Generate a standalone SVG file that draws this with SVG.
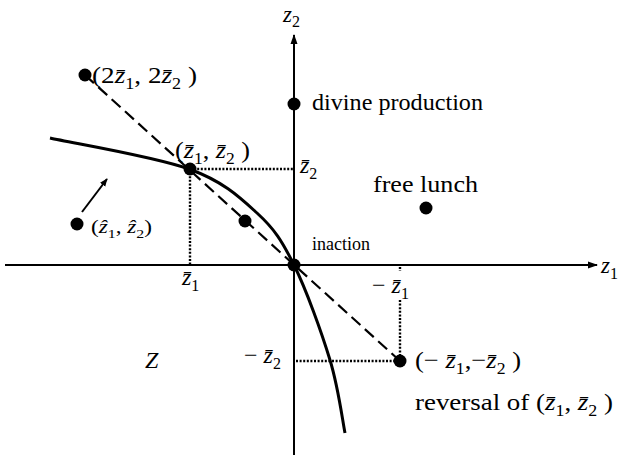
<svg xmlns="http://www.w3.org/2000/svg" width="618" height="460" viewBox="0 0 618 460" font-family="'Liberation Serif', 'Times New Roman', serif">
<style>
text{font-family:'Liberation Serif','Times New Roman',serif;font-size:24px;fill:#000}
.i{font-style:italic}
.s{font-size:16px}
.ax{stroke:#000;stroke-width:2;fill:none}
.dash{stroke:#000;stroke-width:2.2;stroke-dasharray:12 6;fill:none}
.dot{stroke:#000;stroke-width:2.4;stroke-dasharray:2 1.6;fill:none}
.pt{fill:#000}
</style>
<defs>
<marker id="ah" viewBox="0 0 10 10" refX="9" refY="5" markerWidth="8" markerHeight="8" orient="auto" markerUnits="userSpaceOnUse">
<path d="M0,1 L10,5 L0,9 Z" fill="#000"/>
</marker>
<marker id="ah2" viewBox="0 0 10 10" refX="9" refY="5" markerWidth="10" markerHeight="10" orient="auto" markerUnits="userSpaceOnUse">
<path d="M0,1.5 L10,5 L0,8.5 Z" fill="#000"/>
</marker>
</defs>
<g id="connectors">
<line class="ax" x1="5" y1="265" x2="597" y2="265" marker-end="url(#ah2)"/>
<line class="ax" x1="294" y1="455" x2="294" y2="35" marker-end="url(#ah2)"/>
<line class="dash" x1="85" y1="75" x2="400" y2="361"/>
<line class="dot" x1="190" y1="169" x2="293" y2="169"/>
<line class="dot" x1="190" y1="169" x2="190" y2="264"/>
<line class="dot" x1="400" y1="267" x2="400" y2="271"/>
<line class="dot" x1="400" y1="300" x2="400" y2="361"/>
<line class="dot" x1="296" y1="361" x2="400" y2="361"/>
<path d="M50,138 C73.2,143.2 154.5,156.5 189,169 C223.5,181.5 239.5,197 257,213 C274.5,229 281.8,240.5 294,265 C306.2,289.5 321.5,332 330,360 C338.5,388 342.5,420.8 345,433" stroke="#000" stroke-width="3" fill="none"/>
<line class="ax" x1="82" y1="212" x2="107" y2="179" marker-end="url(#ah)"/>
</g>
<g id="axis-labels">
<text x="283" y="22" style="font-size:23px"><tspan class="i">z</tspan><tspan class="s" dy="5">2</tspan></text>
<text x="601" y="273" style="font-size:23px"><tspan class="i">z</tspan><tspan class="s" dy="6">1</tspan></text>
</g>
<g id="node-2z">
<circle class="pt" cx="85" cy="75" r="6.5"/>
<text x="92" y="83" textLength="105" lengthAdjust="spacingAndGlyphs">(2<tspan class="i">z̄</tspan><tspan class="s" dy="6">1</tspan><tspan dy="-6">, 2</tspan><tspan class="i">z̄</tspan><tspan class="s" dy="6">2</tspan><tspan dy="-6"> )</tspan></text>
</g>
<g id="node-zbar">
<circle class="pt" cx="190" cy="169" r="6.5"/>
<text x="175" y="158" textLength="75" lengthAdjust="spacingAndGlyphs">(<tspan class="i">z̄</tspan><tspan class="s" dy="6">1</tspan><tspan dy="-6">, </tspan><tspan class="i">z̄</tspan><tspan class="s" dy="6">2</tspan><tspan dy="-6"> )</tspan></text>
<text x="300" y="173"><tspan class="i">z̄</tspan><tspan class="s" dy="6">2</tspan></text>
<text x="182" y="285"><tspan class="i">z̄</tspan><tspan class="s" dy="6">1</tspan></text>
</g>
<g id="node-mid">
<circle class="pt" cx="245" cy="221" r="6.5"/>
</g>
<g id="node-zhat">
<circle class="pt" cx="77" cy="224" r="6.5"/>
<text x="91" y="233" style="font-size:19px" textLength="61" lengthAdjust="spacingAndGlyphs">(<tspan class="i">ẑ</tspan><tspan dy="5" style="font-size:13px">1</tspan><tspan dy="-5">, </tspan><tspan class="i">ẑ</tspan><tspan dy="5" style="font-size:13px">2</tspan><tspan dy="-5">)</tspan></text>
</g>
<g id="node-divine">
<circle class="pt" cx="294" cy="104" r="6.5"/>
<text x="312" y="110" textLength="171" lengthAdjust="spacingAndGlyphs">divine production</text>
</g>
<g id="node-free">
<circle class="pt" cx="426" cy="208" r="6.5"/>
<text x="373" y="192" textLength="105" lengthAdjust="spacingAndGlyphs">free lunch</text>
</g>
<g id="node-inaction">
<circle class="pt" cx="294" cy="265" r="6.5"/>
<text x="312" y="250" style="font-size:18px">inaction</text>
</g>
<g id="node-reversal">
<circle class="pt" cx="400" cy="361" r="6.5"/>
<text x="372" y="293">− <tspan class="i">z̄</tspan><tspan class="s" dy="6">1</tspan></text>
<text x="244" y="363">− <tspan class="i">z̄</tspan><tspan class="s" dy="6">2</tspan></text>
<text x="415" y="368" textLength="106" lengthAdjust="spacingAndGlyphs">(− <tspan class="i">z̄</tspan><tspan class="s" dy="6">1</tspan><tspan dy="-6">,−</tspan><tspan class="i">z̄</tspan><tspan class="s" dy="6">2</tspan><tspan dy="-6"> )</tspan></text>
<text x="415" y="410" textLength="198" lengthAdjust="spacingAndGlyphs">reversal of (<tspan class="i">z̄</tspan><tspan class="s" dy="6">1</tspan><tspan dy="-6">, </tspan><tspan class="i">z̄</tspan><tspan class="s" dy="6">2</tspan><tspan dy="-6"> )</tspan></text>
</g>
<g id="region-Z">
<text x="145" y="368" class="i">Z</text>
</g>
</svg>
